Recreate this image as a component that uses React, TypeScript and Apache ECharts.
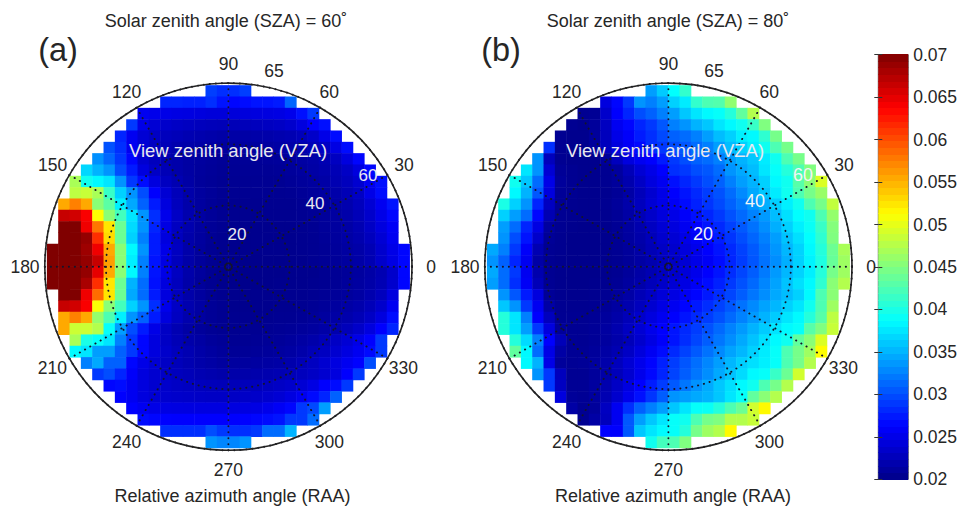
import React, { useEffect, useRef } from "react";
import * as echarts from "echarts";

// Values are in units of 0.0001 (reflectance)
const sza60Rows: number[][] = [
  [293,285,285,293],
  [280,280,278,278,285,272,265,268,272,272,275,312],
  [255,252,250,248,247,245,243,243,243,244,245,246,248,252,270,290],
  [290,250,240,235,232,230,228,226,225,225,226,228,230,232,236,245,262,270],
  [280,255,240,232,228,225,222,220,218,216,216,216,217,218,220,222,226,234,250,268],
  [302,285,255,240,230,225,220,218,216,214,212,212,212,212,213,215,217,220,225,232,248,268],
  [333,313,290,265,238,228,222,218,214,212,210,208,208,208,208,209,210,212,214,217,222,230,245,265],
  [368,350,335,300,275,245,232,224,218,214,211,209,207,207,207,207,207,208,210,212,215,219,224,232,245,265],
  [470,395,385,375,335,290,268,245,230,222,215,210,208,206,206,206,206,206,206,208,210,212,216,222,228,238,255,270],
  [480,485,470,415,365,335,300,262,240,226,218,212,209,206,205,205,205,205,205,206,208,210,213,218,224,232,250,268],
  [555,575,555,455,432,380,345,310,275,245,228,218,212,208,205,204,204,204,204,204,204,206,208,211,215,220,228,240,255,272],
  [665,660,640,512,455,420,375,335,285,252,232,220,214,209,206,204,204,204,204,204,204,205,207,210,213,218,225,235,250,265],
  [700,700,645,580,525,440,370,335,280,248,230,220,213,208,205,203,203,203,203,203,203,204,206,209,212,216,222,232,245,258],
  [700,700,690,615,530,440,365,325,275,245,228,218,212,207,204,203,203,203,203,203,203,204,205,208,211,215,220,228,240,255],
  [700,700,700,685,645,555,455,385,335,275,250,230,218,211,206,204,203,203,203,203,203,203,204,205,207,210,213,217,223,236,250,265],
  [700,700,700,690,665,560,455,380,325,272,248,228,217,210,205,203,202,202,202,202,202,203,203,205,207,209,212,216,222,235,248,265],
  [700,700,700,690,650,555,455,385,325,272,250,230,218,211,206,203,202,202,202,202,202,203,203,203,205,207,209,212,216,222,235,265],
  [700,700,700,680,615,525,440,350,315,270,245,228,217,210,205,203,202,202,202,202,203,203,203,204,205,207,210,213,217,223,236,265],
  [700,700,645,585,525,440,345,315,275,245,228,218,212,207,204,203,203,203,203,203,204,204,205,207,209,211,214,220,228,245],
  [665,660,640,510,455,420,365,335,285,252,232,220,214,208,205,203,203,203,203,204,204,205,207,209,212,215,219,225,235,255],
  [555,575,555,460,425,380,335,310,275,245,230,220,213,208,205,204,204,204,204,205,205,207,209,212,215,219,224,232,245,268],
  [555,487,487,475,390,340,300,275,250,232,222,215,210,207,205,204,205,205,206,207,208,210,212,216,220,226,234,245,262,280],
  [470,400,390,375,325,290,265,245,232,224,218,214,210,208,206,206,207,208,209,211,214,218,224,232,240,250,262,290],
  [385,375,340,340,310,290,265,245,235,228,222,217,213,210,208,208,209,210,212,214,218,224,230,238,246,255,267,290],
  [325,345,310,310,265,250,240,232,226,222,218,215,212,212,212,213,214,216,219,224,230,238,246,255,263,300],
  [290,300,280,260,245,238,232,228,225,222,220,218,218,218,219,220,222,225,228,232,238,245,262,290],
  [265,268,255,245,238,235,232,230,228,226,225,225,226,227,229,232,235,240,248,262,268,290],
  [262,255,245,240,237,235,234,233,232,232,232,233,234,236,240,246,255,267,280,310],
  [262,255,250,248,247,246,246,246,246,246,247,248,252,258,265,290,298,340],
  [268,265,263,262,262,262,262,262,262,263,265,268,272,290,290,315],
  [285,285,285,285,300,290,285,285,290,315,315,350],
  [335,328,328,335],
];

const sza80Rows: number[][] = [
  [340,362,388,412],
  [245,265,290,335,325,340,365,378,412,425,428,458],
  [205,207,235,262,280,300,310,325,340,360,375,385,390,405,435,475],
  [205,203,210,230,255,265,280,290,305,325,335,350,360,375,385,395,415,450],
  [205,203,203,210,228,250,260,275,285,298,310,315,325,340,355,365,380,385,410,445],
  [285,205,203,203,210,228,245,258,267,285,290,300,305,315,325,340,355,365,380,395,425,445],
  [335,228,205,203,203,203,210,228,245,255,262,275,290,300,310,315,325,340,350,360,378,395,425,445],
  [375,335,240,208,205,203,203,205,212,225,240,250,262,285,290,300,305,315,335,345,355,375,390,405,425,450],
  [395,360,315,250,210,205,203,203,205,210,220,232,245,255,270,280,290,300,310,325,340,350,365,385,395,430,455,495],
  [385,350,305,245,208,205,203,203,204,208,216,226,238,250,262,272,282,292,302,315,330,345,360,378,395,425,445,462],
  [400,365,335,280,230,207,204,203,203,205,210,218,228,240,250,258,268,278,288,298,310,322,335,348,365,380,395,425,445,482],
  [365,340,315,265,222,206,204,203,203,204,208,215,224,234,244,250,260,270,280,290,302,314,326,338,355,372,388,395,425,460],
  [340,315,280,248,212,205,203,202,202,203,207,213,220,230,240,245,255,263,272,282,294,306,318,332,348,365,380,392,415,452],
  [335,300,272,235,208,204,202,202,202,203,206,212,218,226,236,240,250,258,266,276,288,300,312,325,340,358,372,388,410,450],
  [345,325,290,260,222,206,204,202,202,202,203,206,210,216,224,232,236,244,252,262,272,282,294,306,320,336,352,366,385,405,440,470],
  [335,310,280,255,216,205,203,202,202,202,203,205,209,214,220,228,232,240,250,258,268,280,292,304,318,332,348,365,382,402,438,465],
  [345,315,290,255,220,205,203,202,202,202,203,205,210,216,222,230,235,243,252,262,272,284,296,308,322,338,352,366,380,405,445,465],
  [340,315,285,258,225,206,203,202,202,203,204,207,212,218,226,234,240,248,258,268,278,290,302,314,328,342,358,372,385,410,455,475],
  [335,305,275,245,208,204,203,203,204,206,210,216,224,232,242,248,256,264,274,284,296,308,320,332,345,355,365,385,425,455],
  [360,335,290,255,215,205,204,204,205,208,213,220,228,238,248,255,264,274,284,294,305,318,330,342,352,365,375,395,425,465],
  [405,375,325,262,228,206,205,205,207,211,217,225,235,245,255,262,272,282,292,302,314,326,338,350,362,375,385,405,430,480],
  [405,375,340,290,245,210,206,206,208,213,220,230,240,252,262,272,282,292,302,314,326,338,350,362,375,385,390,430,450,485],
  [405,370,325,262,225,207,206,208,212,218,226,236,248,260,272,284,296,308,320,332,345,358,372,385,395,435,455,495],
  [435,385,315,250,215,207,207,210,215,222,232,244,256,268,282,294,306,318,330,342,352,365,378,390,425,445,465,513],
  [385,350,250,210,207,208,212,218,228,240,252,264,278,292,304,316,328,340,352,364,372,380,390,425,445,475],
  [335,290,228,206,206,210,216,226,238,252,266,280,295,308,320,332,345,358,370,385,390,415,440,490],
  [290,230,207,207,212,220,232,246,262,276,292,306,320,334,346,360,372,385,395,425,445,475],
  [245,209,207,212,222,236,252,270,288,308,335,340,345,350,360,375,390,435,455,475],
  [215,205,210,230,255,285,310,325,340,360,375,390,392,405,425,440,490,515],
  [205,215,228,255,305,340,360,375,390,395,425,445,450,475,475,485],
  [262,262,305,360,375,385,390,405,445,465,475,515],
  [395,420,425,450],
];

const angleLabels = [
  { text: "90", dx: 0, dy: -202.7 },
  { text: "65", dx: 45.6, dy: -195.7 },
  { text: "60", dx: 100.9, dy: -175 },
  { text: "30", dx: 175.6, dy: -101.7 },
  { text: "0", dx: 202.6, dy: 0 },
  { text: "330", dx: 175, dy: 101.3 },
  { text: "300", dx: 100.9, dy: 175.3 },
  { text: "270", dx: 0, dy: 203.3 },
  { text: "240", dx: -101.7, dy: 175.3 },
  { text: "210", dx: -176, dy: 101.3 },
  { text: "180", dx: -203.4, dy: 0 },
  { text: "150", dx: -175.7, dy: -101.7 },
  { text: "120", dx: -101.7, dy: -175 },
];
const vzaTicksA = [
  { text: "20", x: 237, y: 234 },
  { text: "40", x: 315, y: 203 },
  { text: "60", x: 368, y: 175 },
];
const vzaTicksB = [
  { text: "20", x: 703, y: 234 },
  { text: "40", x: 755, y: 201 },
  { text: "60", x: 803, y: 175 },
];
const jetStops = ["#000088","#0000ff","#0080ff","#00ffff","#80ff80","#ffff00","#ff8000","#ff0000","#800000"];
const barMin = 200;
const barMax = 700;
const barLevels = 64;

const CELL = 11.33;
const N = 32;
const R = 183.6;
const CY = 266.7;
const CXA = 228.4;
const CXB = 668.4;
const TEXT = "#262626";
const FONT = '"Liberation Sans", Arial, sans-serif';

const cells = (rows: number[][]) => {
  const out: number[][] = [];
  rows.forEach((row, r) => {
    const start = N / 2 - row.length / 2;
    row.forEach((v, i) => out.push([start + i, r, v]));
  });
  return out;
};

const barData: number[][] = [];
for (let i = 0; i < barLevels; i++) {
  const lo = barMin + ((barMax - barMin) * i) / barLevels;
  const hi = barMin + ((barMax - barMin) * (i + 1)) / barLevels;
  barData.push([lo / 1e4, hi / 1e4, (lo + hi) / 2]);
}

const label = (text: string, x: number, y: number, size: number, fill = TEXT) => ({
  type: "text",
  x,
  y,
  z: 20,
  silent: true,
  style: { text, fill, font: `${size}px ${FONT}`, textAlign: "center", textVerticalAlign: "middle" },
});

const gridSide = N * CELL;
const idx = Array.from({ length: N }, (_, i) => String(i));

const dotted = { color: "#14142a", width: 1.9, type: [0.2, 5.8], cap: "round" };

const polarAxes = (polarIndex: number) => ({
  angle: {
    polarIndex, type: "value", min: 0, max: 360, interval: 30, startAngle: 0, clockwise: false, z: 6,
    axisLine: { show: true, lineStyle: { color: "#222", width: 1.6 } },
    axisTick: { show: false }, axisLabel: { show: false },
    splitLine: { show: true, lineStyle: dotted },
  },
  radius: {
    polarIndex, type: "value", min: 0, max: 60, interval: 20, z: 6,
    axisLine: { show: false }, axisTick: { show: false }, axisLabel: { show: false },
    splitLine: { show: true, lineStyle: dotted },
  },
});

const App = () => {
  const ref = useRef<HTMLDivElement>(null);
  useEffect(() => {
    const chart = echarts.init(ref.current!, undefined, { renderer: "svg" });
    const pa = polarAxes(0);
    const pb = polarAxes(1);
    const grid = (cx: number) => ({ left: cx - gridSide / 2, top: CY - gridSide / 2, width: gridSide, height: gridSide });
    const cat = (gridIndex: number, inverse = false) => ({
      type: "category", gridIndex, data: idx, show: false, inverse,
    });
    chart.setOption({
      animation: false,
      backgroundColor: "#fff",
      grid: [
        grid(CXA),
        grid(CXB),
        { left: 878.3, top: 54.7, width: 30.4, height: 424.6, show: true, borderColor: "#555", borderWidth: 1, backgroundColor: "transparent" },
      ],
      xAxis: [
        cat(0), cat(1),
        { type: "value", gridIndex: 2, min: 0, max: 1, show: false },
      ],
      yAxis: [
        cat(0, true), cat(1, true),
        {
          type: "value", gridIndex: 2, min: 0.02, max: 0.07, interval: 0.005, position: "right", z: 6,
          axisLine: { show: false },
          axisTick: { show: true, inside: true, length: 4, lineStyle: { color: "#333" } },
          axisLabel: { show: true, color: TEXT, fontSize: 17.5, fontFamily: FONT, margin: 5 },
          splitLine: { show: false },
        },
        {
          type: "value", gridIndex: 2, min: 0.02, max: 0.07, interval: 0.005, position: "left", z: 6,
          axisLine: { show: false },
          axisTick: { show: true, inside: true, length: 4, lineStyle: { color: "#333" } },
          axisLabel: { show: false },
          splitLine: { show: false },
        },
      ],
      polar: [
        { center: [CXA, CY], radius: R },
        { center: [CXB, CY], radius: R },
      ],
      angleAxis: [pa.angle, pb.angle],
      radiusAxis: [pa.radius, pb.radius],
      visualMap: {
        show: false, type: "continuous", min: barMin, max: barMax, dimension: 2,
        seriesIndex: [0, 1, 2], inRange: { color: jetStops },
      },
      series: [
        { type: "heatmap", xAxisIndex: 0, yAxisIndex: 0, data: cells(sza60Rows), itemStyle: { borderWidth: 0 }, progressive: 0 },
        { type: "heatmap", xAxisIndex: 1, yAxisIndex: 1, data: cells(sza80Rows), itemStyle: { borderWidth: 0 }, progressive: 0 },
        {
          type: "custom", xAxisIndex: 2, yAxisIndex: 2, data: barData, silent: true,
          encode: { x: -1, y: [0, 1] },
          renderItem: (_: any, api: any) => {
            const a = api.coord([0, api.value(0)]);
            const b = api.coord([1, api.value(1)]);
            return {
              type: "rect",
              shape: { x: a[0], y: Math.floor(b[1]), width: b[0] - a[0], height: Math.ceil(a[1]) - Math.floor(b[1]) },
              style: { fill: api.visual("color") },
            };
          },
        },
      ],
      graphic: [
        label("Solar zenith angle (SZA) = 60˚", 226, 21, 18),
        label("Solar zenith angle (SZA) = 80˚", 668, 21, 18),
        label("(a)", 58, 50, 32.5),
        label("(b)", 501, 50, 32.5),
        label("Relative azimuth angle (RAA)", 232.5, 496, 18),
        label("Relative azimuth angle (RAA)", 673, 496, 18),
        ...angleLabels.map((l) => label(l.text, CXA + l.dx, CY + l.dy, 17.5)),
        ...angleLabels.map((l) => label(l.text, CXB + l.dx, CY + l.dy, 17.5)),
        label("View zenith angle (VZA)", 228, 150, 18.5, "#e8e8f0"),
        label("View zenith angle (VZA)", 665, 150, 18.5, "#e8e8f0"),
        ...vzaTicksA.map((l) => label(l.text, l.x, l.y, 17, "#e8e8f0")),
        ...vzaTicksB.map((l) => label(l.text, l.x, l.y, 18, "#f4f4f8")),
      ],
    });
    return () => chart.dispose();
  }, []);
  return <div ref={ref} style={{ position: "fixed", left: 0, top: 0, width: 960, height: 506 }} />;
};

export default App;
